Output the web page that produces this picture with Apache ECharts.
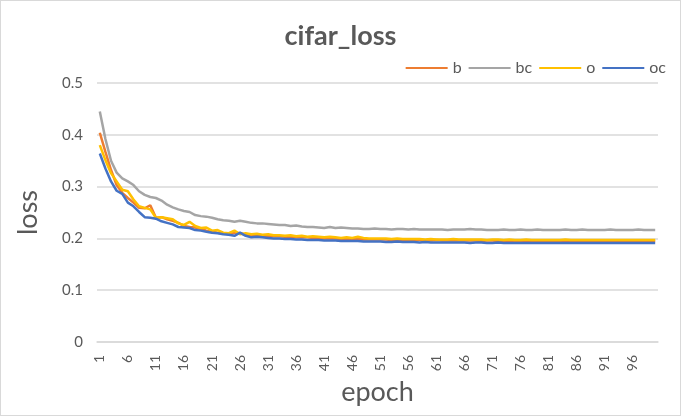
<!DOCTYPE html>
<html>
<head>
<meta charset="utf-8">
<script src="https://cdn.jsdelivr.net/npm/echarts@6/dist/echarts.min.js"></script>
<style>
html,body{margin:0;padding:0;background:#fff;}
#c{width:679px;height:414px;border:1px solid #d9d9d9;}
</style>
</head>
<body>
<div id="c"></div>
<script>
const epochs = Array.from({length:100},(_, i)=>String(i+1));
const b = [0.404,0.367,0.332,0.303,0.288,0.278,0.269,0.259,0.258,0.264,
0.240,0.241,0.237,0.234,0.230,0.224,0.222,0.221,0.218,0.215,
0.213,0.211,0.210,0.208,0.211,0.210,0.207,0.205,0.206,0.205,
0.205,0.204,0.204,0.203,0.203,0.202,0.202,0.202,0.201,0.201,
0.200,0.200,0.200,0.199,0.199,0.199,0.199,0.198,0.198,0.198,
0.198,0.198,0.197,0.197,0.197,0.197,0.197,0.197,0.196,0.196,
0.197,0.196,0.196,0.196,0.196,0.196,0.196,0.196,0.195,0.196,
0.196,0.195,0.196,0.195,0.195,0.196,0.195,0.195,0.195,0.195,
0.195,0.196,0.195,0.195,0.195,0.195,0.195,0.195,0.195,0.195,
0.195,0.195,0.195,0.195,0.195,0.195,0.195,0.195,0.195,0.195];
const bc = [0.445,0.392,0.350,0.327,0.316,0.310,0.303,0.291,0.284,0.280,
0.278,0.273,0.265,0.260,0.256,0.253,0.251,0.245,0.243,0.242,
0.240,0.237,0.235,0.234,0.232,0.234,0.232,0.230,0.229,0.229,
0.228,0.227,0.226,0.226,0.224,0.225,0.223,0.222,0.222,0.221,
0.220,0.222,0.220,0.221,0.220,0.219,0.219,0.218,0.218,0.219,
0.218,0.218,0.217,0.218,0.218,0.217,0.218,0.217,0.217,0.217,
0.217,0.217,0.216,0.217,0.217,0.217,0.218,0.217,0.217,0.216,
0.216,0.216,0.217,0.216,0.216,0.217,0.216,0.216,0.217,0.216,
0.216,0.216,0.216,0.217,0.216,0.216,0.217,0.216,0.216,0.216,
0.216,0.217,0.216,0.216,0.216,0.216,0.217,0.216,0.216,0.216];
const o = [0.380,0.351,0.326,0.310,0.294,0.291,0.275,0.262,0.259,0.256,
0.240,0.241,0.239,0.237,0.229,0.226,0.232,0.224,0.220,0.221,
0.215,0.216,0.211,0.210,0.215,0.208,0.210,0.208,0.209,0.207,
0.208,0.206,0.206,0.205,0.206,0.204,0.205,0.203,0.204,0.203,
0.202,0.203,0.202,0.201,0.202,0.201,0.203,0.201,0.200,0.200,
0.200,0.200,0.199,0.200,0.199,0.199,0.199,0.199,0.198,0.199,
0.198,0.198,0.198,0.199,0.198,0.198,0.198,0.198,0.198,0.197,
0.198,0.198,0.197,0.198,0.197,0.197,0.198,0.197,0.197,0.197,
0.197,0.197,0.197,0.198,0.197,0.197,0.197,0.197,0.197,0.197,
0.197,0.197,0.197,0.197,0.197,0.197,0.197,0.197,0.197,0.197];
const oc = [0.364,0.335,0.310,0.292,0.286,0.269,0.262,0.251,0.241,0.240,
0.238,0.233,0.230,0.227,0.222,0.221,0.220,0.216,0.215,0.213,
0.211,0.210,0.208,0.207,0.205,0.211,0.205,0.202,0.203,0.202,
0.201,0.200,0.200,0.199,0.199,0.198,0.198,0.197,0.197,0.197,
0.196,0.196,0.196,0.195,0.195,0.195,0.195,0.194,0.194,0.194,
0.194,0.193,0.193,0.194,0.193,0.193,0.193,0.192,0.193,0.192,
0.192,0.192,0.192,0.192,0.192,0.192,0.191,0.192,0.192,0.191,
0.191,0.192,0.191,0.191,0.191,0.191,0.191,0.191,0.191,0.191,
0.191,0.191,0.191,0.191,0.191,0.191,0.191,0.191,0.191,0.191,
0.191,0.191,0.191,0.191,0.191,0.191,0.191,0.191,0.191,0.191];
const yTicks = [0, 0.1, 0.2, 0.3, 0.4, 0.5];

const font = 'Lato, "Noto Sans", sans-serif';
const chart = echarts.init(document.getElementById('c'));
const mk = (name, data, color) => ({
  name, type: 'line', data, showSymbol: false, symbol: 'none',
  lineStyle: {width: 2.5, color}, itemStyle: {color}, animation: false
});
chart.setOption({
  animation: false,
  textStyle: {fontFamily: font},
  title: {text: 'cifar_loss', left: 'center', top: 17,
    textStyle: {fontSize: 27, fontWeight: 'bold', color: '#595959', fontFamily: font}},
  legend: {right: 9, top: 54, icon: 'rect', itemWidth: 42, itemHeight: 2, itemGap: 7,
    textStyle: {fontSize: 16, color: '#595959', fontFamily: font},
    data: ['b','bc','o','oc']},
  grid: {left: 96, right: 22, top: 82, bottom: 73, containLabel: false},
  xAxis: {type: 'category', data: epochs, boundaryGap: true,
    name: 'epoch', nameLocation: 'middle', nameGap: 34,
    nameTextStyle: {fontSize: 27, color: '#595959', fontFamily: font},
    axisLine: {lineStyle: {color: '#d9d9d9', width: 1.5}},
    axisTick: {show: false},
    axisLabel: {interval: 4, rotate: 90, fontSize: 14, color: '#595959', margin: 13, fontFamily: font}},
  yAxis: {type: 'value', min: yTicks[0], max: yTicks[yTicks.length-1], interval: 0.1,
    name: 'loss', nameLocation: 'middle', nameGap: 55,
    nameTextStyle: {fontSize: 27, color: '#595959', fontFamily: font},
    axisLine: {show: false}, axisTick: {show: false},
    axisLabel: {fontSize: 15, color: '#595959', margin: 14, fontFamily: font,
      formatter: v => String(Math.round(v*10)/10)},
    splitLine: {lineStyle: {color: '#d9d9d9', width: 1.5}}},
  series: [mk('b', b, '#ED7D31'), mk('bc', bc, '#A5A5A5'), mk('o', o, '#FFC000'), mk('oc', oc, '#4472C4')]
});
</script>
</body>
</html>
